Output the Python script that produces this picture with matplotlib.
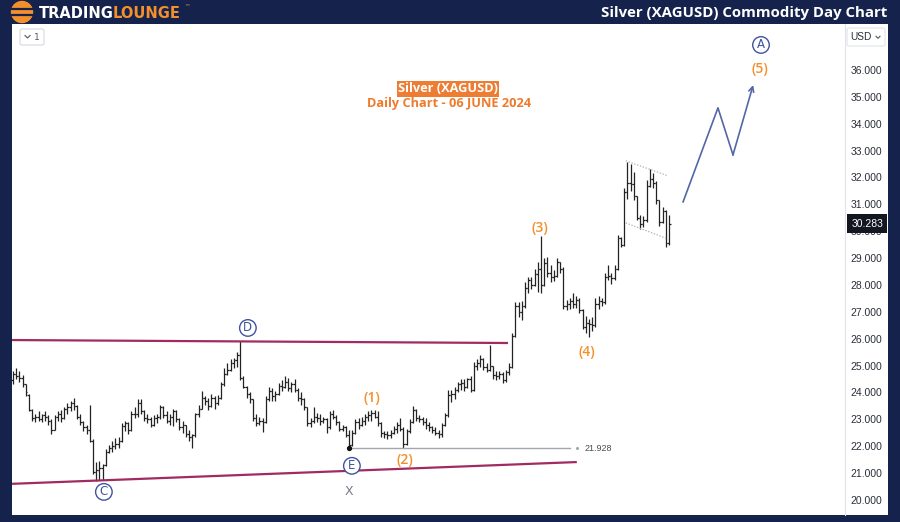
import matplotlib
matplotlib.use("Agg")   # no display

import numpy as np
import matplotlib.pyplot as plt
import matplotlib.transforms as mtransforms
from matplotlib.patches import Circle, FancyBboxPatch


# -------------------------------------------------
# DATA  (XAGUSD daily bars)
# -------------------------------------------------

opens = [
    24.45, 24.7, 24.6, 24.55, 24.3, 23.9, 23.35, 23.05, 23.1, 23.0,
    23.15, 23.1, 22.95, 22.6, 23.1, 23.2, 23.05, 23.4, 23.45, 23.6,
    23.5, 23.1, 22.9, 22.7, 22.6, 22.2, 21.05, 21.1, 21.2, 21.3,
    21.8, 21.95, 22.0, 22.1, 22.2, 22.75, 22.85, 22.6, 23.2, 23.2,
    23.6, 23.3, 23.05, 23.0, 22.8, 23.05, 23.1, 23.45, 23.15, 22.95,
    23.1, 23.3, 23.0, 22.7, 22.8, 22.45, 22.35, 22.4, 23.2, 23.4,
    23.8, 23.7, 23.5, 23.8, 23.6, 23.8, 24.3, 24.7, 24.85, 25.1,
    25.2, 25.4, 24.55, 24.2, 23.95, 23.75, 23.05, 22.85, 22.95, 22.9,
    23.75, 24.05, 23.85, 23.95, 24.25, 24.2, 24.4, 24.15, 24.3, 24.1,
    23.8, 23.75, 23.45, 22.85, 22.95, 23.1, 23.05, 22.95, 23.0, 22.7,
    23.2, 23.1, 22.9, 22.65, 22.7, 22.4, 22.05, 22.5, 22.9, 22.8,
    22.95, 23.1, 23.15, 23.25, 23.1, 22.85, 22.5, 22.45, 22.4, 22.5,
    22.65, 22.8, 22.65, 22.1, 22.55, 22.9, 23.35, 23.05, 23.0, 22.9,
    22.8, 22.7, 22.6, 22.5, 22.45, 22.8, 23.15, 23.9, 23.95, 24.1,
    24.3, 24.35, 24.2, 24.5, 24.1, 25.0, 25.1, 25.25, 24.95, 24.85,
    25.0, 24.65, 24.6, 24.7, 24.45, 24.75, 24.95, 26.1, 27.2, 27.0,
    27.2, 27.9, 28.2, 28.0, 28.4, 28.6, 28.0, 28.8, 28.45, 28.3,
    28.35, 28.85, 28.6, 27.2, 27.3, 27.4, 27.3, 27.45, 27.05, 26.45,
    26.6, 26.55, 26.5, 27.3, 27.4, 27.35, 28.3, 28.35, 28.25, 28.6,
    29.75, 29.5, 31.45, 31.8, 31.75, 31.3, 30.5, 30.25, 30.4, 31.7,
    31.95, 31.8, 31.15, 30.35, 30.75, 29.55,
]

highs = [
    24.8, 24.9, 24.8, 24.65, 24.3, 23.95, 23.4, 23.2, 23.3, 23.2,
    23.3, 23.15, 23.0, 23.15, 23.3, 23.35, 23.45, 23.6, 23.7, 23.8,
    23.55, 23.2, 22.95, 22.8, 23.55, 22.25, 21.4, 21.45, 21.35, 21.9,
    22.05, 22.2, 22.3, 22.35, 22.85, 22.95, 22.9, 23.3, 23.45, 23.75,
    23.75, 23.35, 23.2, 23.1, 23.15, 23.2, 23.55, 23.5, 23.3, 23.2,
    23.4, 23.35, 23.05, 22.95, 22.8, 22.6, 22.45, 23.25, 23.55, 24.05,
    23.85, 23.8, 23.95, 23.85, 23.9, 24.4, 24.9, 25.1, 25.25, 25.3,
    25.5, 25.93, 24.6, 24.25, 24.0, 23.75, 23.2, 23.1, 23.05, 23.85,
    24.2, 24.15, 24.05, 24.35, 24.45, 24.6, 24.55, 24.4, 24.5, 24.15,
    24.0, 23.8, 23.45, 23.05, 23.45, 23.25, 23.2, 23.1, 23.05, 23.3,
    23.35, 23.15, 22.95, 22.8, 22.75, 22.6, 22.6, 23.0, 23.05, 23.1,
    23.2, 23.3, 23.35, 23.35, 23.3, 22.9, 22.55, 22.55, 22.6, 22.75,
    22.9, 23.05, 22.7, 22.65, 23.0, 23.5, 23.4, 23.15, 23.1, 23.05,
    22.9, 22.75, 22.7, 22.6, 22.85, 23.25, 24.1, 24.1, 24.2, 24.4,
    24.5, 24.5, 24.55, 24.6, 25.15, 25.25, 25.4, 25.3, 25.1, 25.77,
    25.0, 24.8, 24.8, 24.75, 24.85, 25.1, 26.2, 27.35, 27.35, 27.4,
    28.1, 28.3, 28.3, 28.6, 28.85, 29.82, 29.0, 29.05, 28.75, 28.55,
    29.0, 28.85, 28.65, 27.45, 27.5, 27.7, 27.6, 27.5, 27.1, 26.85,
    26.75, 26.8, 27.5, 27.6, 27.5, 28.45, 28.75, 28.45, 28.75, 29.85,
    29.8, 31.6, 32.58, 32.5, 32.2, 31.3, 30.6, 30.55, 31.9, 32.32,
    32.15, 31.85, 31.15, 30.9, 30.8, 30.6,
]

lows = [
    24.3, 24.5, 24.4, 24.2, 23.85, 23.3, 22.95, 22.9, 22.95, 22.9,
    22.95, 22.8, 22.45, 22.6, 22.95, 22.9, 23.0, 23.2, 23.3, 23.35,
    23.0, 22.8, 22.55, 22.45, 22.15, 20.95, 20.7, 20.75, 20.75, 21.25,
    21.75, 21.8, 21.9, 21.95, 22.15, 22.55, 22.45, 22.55, 23.05, 23.1,
    23.2, 22.95, 22.85, 22.7, 22.75, 22.85, 23.0, 23.05, 22.85, 22.8,
    22.75, 22.9, 22.6, 22.5, 22.35, 22.2, 21.93, 22.35, 23.1, 23.4,
    23.55, 23.35, 23.45, 23.4, 23.55, 23.75, 24.25, 24.65, 24.8, 24.9,
    24.95, 24.45, 24.15, 23.8, 23.6, 22.95, 22.75, 22.8, 22.52, 22.85,
    23.7, 23.7, 23.7, 23.9, 24.05, 24.15, 24.05, 24.0, 24.0, 23.7,
    23.55, 23.35, 22.75, 22.7, 22.85, 22.9, 22.8, 22.85, 22.5, 22.65,
    23.0, 22.8, 22.55, 22.55, 22.35, 21.93, 22.0, 22.45, 22.65, 22.75,
    22.8, 22.95, 22.95, 23.05, 22.75, 22.35, 22.3, 22.25, 22.3, 22.45,
    22.5, 22.55, 21.95, 22.05, 22.5, 22.85, 22.95, 22.9, 22.8, 22.65,
    22.55, 22.5, 22.4, 22.3, 22.35, 22.75, 23.1, 23.65, 23.75, 24.0,
    24.1, 24.05, 24.15, 24.0, 24.05, 24.85, 24.95, 24.85, 24.75, 24.8,
    24.5, 24.45, 24.5, 24.35, 24.4, 24.65, 24.9, 26.05, 26.8, 26.7,
    27.15, 27.7, 27.85, 27.95, 27.75, 27.7, 27.95, 28.3, 28.1, 28.15,
    28.3, 28.45, 27.1, 27.05, 27.1, 27.15, 27.15, 26.95, 26.35, 26.2,
    26.05, 26.3, 26.45, 27.1, 27.2, 27.3, 28.2, 28.05, 28.2, 28.55,
    29.4, 29.45, 31.2, 31.5, 31.15, 30.4, 30.1, 30.15, 30.35, 31.65,
    31.6, 31.0, 30.2, 30.3, 29.42, 29.5,
]

closes = [
    24.7, 24.6, 24.55, 24.3, 24.0, 23.35, 23.05, 23.1, 23.0, 23.15,
    23.1, 22.95, 22.6, 23.1, 23.2, 23.05, 23.4, 23.45, 23.6, 23.5,
    23.1, 22.9, 22.7, 22.6, 22.2, 21.05, 21.1, 21.2, 21.3, 21.8,
    21.95, 22.0, 22.1, 22.2, 22.75, 22.85, 22.6, 23.2, 23.2, 23.6,
    23.3, 23.05, 23.0, 22.8, 23.05, 23.1, 23.45, 23.15, 22.95, 23.1,
    23.3, 23.0, 22.7, 22.8, 22.45, 22.35, 22.4, 23.2, 23.4, 23.8,
    23.7, 23.5, 23.8, 23.6, 23.8, 24.3, 24.7, 24.85, 25.1, 25.2,
    25.4, 24.55, 24.2, 23.95, 23.75, 23.05, 22.85, 22.95, 22.9, 23.75,
    24.05, 23.85, 23.95, 24.25, 24.2, 24.4, 24.15, 24.3, 24.1, 23.8,
    23.75, 23.45, 22.85, 22.95, 23.1, 23.05, 22.95, 23.0, 22.7, 23.2,
    23.1, 22.9, 22.65, 22.7, 22.4, 22.05, 22.5, 22.9, 22.8, 22.95,
    23.1, 23.15, 23.25, 23.1, 22.85, 22.5, 22.45, 22.4, 22.5, 22.65,
    22.8, 22.65, 22.1, 22.55, 22.9, 23.35, 23.05, 23.0, 22.9, 22.8,
    22.7, 22.6, 22.5, 22.45, 22.8, 23.15, 23.9, 23.95, 24.1, 24.3,
    24.35, 24.2, 24.5, 24.1, 25.0, 25.1, 25.25, 24.95, 24.85, 25.0,
    24.65, 24.6, 24.7, 24.45, 24.75, 24.95, 26.1, 27.2, 27.0, 27.2,
    27.9, 28.2, 28.0, 28.4, 28.6, 28.0, 28.8, 28.45, 28.3, 28.35,
    28.85, 28.6, 27.2, 27.3, 27.4, 27.3, 27.45, 27.05, 26.45, 26.6,
    26.55, 26.5, 27.3, 27.4, 27.35, 28.3, 28.35, 28.25, 28.6, 29.75,
    29.5, 31.45, 31.8, 31.75, 31.3, 30.5, 30.25, 30.4, 31.7, 31.95,
    31.8, 31.15, 30.35, 30.75, 29.55, 30.283,
]

last_price = 30.283
price_ticks = list(range(20, 37))

# horizontal level from wave E low
low_level = 21.928
low_level_x = [105, 174]

# triangle boundaries (maroon)
upper_line_x = [-0.3, 154.7]
upper_line_y = [25.95, 25.84]
lower_line_x = [-0.3, 176.2]
lower_line_y = [20.60, 21.41]

# flag channel (dotted)
flag_top_x = [191.5, 204.7]
flag_top_y = [32.62, 32.06]
flag_bot_x = [191.5, 204.7]
flag_bot_y = [30.31, 29.71]

# projected path to (5)
proj_x = [209.4, 220.3, 225.0, 231.3]
proj_y = [31.09, 34.59, 32.84, 35.44]

# wave labels
wave_labels = ["(1)", "(2)", "(3)", "(4)", "(5)"]
wave_x = [112.2, 122.5, 164.7, 179.4, 233.4]
wave_y = [23.80, 21.49, 30.12, 25.51, 36.04]

circle_labels = ["C", "D", "E", "A"]
circle_x = [28.4, 73.4, 105.9, 233.75]
circle_y = [20.30, 26.40, 21.27, 36.93]

x_label_pos = (105.0, 20.33)

assert len(opens) == len(highs) == len(lows) == len(closes)

# -------------------------------------------------
# COLOURS
# -------------------------------------------------
NAVY = "#15224c"
ORANGE = "#f4902c"
BAR = "#222222"
MAROON = "#a02b62"
CIRC = "#3f539e"
PROJ = "#5367a6"
AXIS_TXT = "#2a2e39"

# -------------------------------------------------
# FIGURE
# -------------------------------------------------
fig = plt.figure(figsize=(9, 5.22), dpi=100)
fig.patch.set_facecolor(NAVY)

# white panel behind plot + price scale
panel = fig.add_axes([12 / 900, 7 / 522, 876 / 900, 491 / 522])
panel.set_facecolor("white")
panel.set_xticks([])
panel.set_yticks([])
for s in panel.spines.values():
    s.set_visible(False)

ax = fig.add_axes([12 / 900, 7 / 522, 833 / 900, 491 / 522])
ax.set_facecolor("white")
ax.set_xlim(-0.31, 260)
ax.set_ylim(19.44, 37.71)

for name, s in ax.spines.items():
    s.set_visible(name == "right")
ax.spines["right"].set_color("#e0e3eb")
ax.spines["right"].set_linewidth(0.8)

ax.set_xticks([])
ax.yaxis.tick_right()
ax.set_yticks(price_ticks)
ax.set_yticklabels([f"{p:.3f}" for p in price_ticks],
                   fontfamily="Liberation Sans")
ax.tick_params(axis="y", length=0, pad=4, labelsize=7.5,
               labelcolor=AXIS_TXT)

# OHLC bars
idx = np.arange(len(closes))
ax.vlines(idx, lows, highs, color=BAR, lw=0.9)
ax.hlines(opens, idx - 0.5, idx, color=BAR, lw=0.9)
ax.hlines(closes, idx, idx + 0.5, color=BAR, lw=0.9)

# triangle lines
ax.plot(upper_line_x, upper_line_y, color=MAROON, lw=1.6, solid_capstyle="butt")
ax.plot(lower_line_x, lower_line_y, color=MAROON, lw=1.6, solid_capstyle="butt")

# E low level
ax.plot(low_level_x, [low_level, low_level], color="#a3a6ad", lw=1.0)
ax.plot(low_level_x[0], low_level, "o", ms=2.8, color="#111111")
ax.plot(176.3, low_level, "o", ms=1.2, color="#a3a6ad")
ax.text(182.8, low_level, f"{low_level:.3f}", ha="center", va="center",
        fontsize=6.5, color="#4a4d55", fontfamily="Liberation Sans")

# flag channel
ax.plot(flag_top_x, flag_top_y, color="#a8a8a8", lw=0.8, ls=(0, (1.2, 1.5)))
ax.plot(flag_bot_x, flag_bot_y, color="#a8a8a8", lw=0.8, ls=(0, (1.2, 1.5)))

# projection towards (5)
ax.plot(proj_x[:-1], proj_y[:-1], color=PROJ, lw=1.2)
ax.annotate("", xy=(proj_x[-1], proj_y[-1]), xytext=(proj_x[-2], proj_y[-2]),
            arrowprops=dict(arrowstyle="->", color=PROJ, lw=1.2,
                            shrinkA=0, shrinkB=0, mutation_scale=9))

# wave counts
for lab, x, y in zip(wave_labels, wave_x, wave_y):
    ax.text(x, y, lab, ha="center", va="center", fontsize=10,
            color=ORANGE, fontweight="semibold", fontfamily="Open Sans")

for lab, x, y in zip(circle_labels, circle_x, circle_y):
    ax.text(x, y, lab, ha="center", va="center", fontsize=8.5, color=CIRC,
            fontfamily="DejaVu Sans",
            bbox=dict(boxstyle="circle,pad=0.15", fc="white", ec=CIRC, lw=1.0))

ax.text(x_label_pos[0], x_label_pos[1], "X", ha="center", va="center",
        fontsize=9, color="#787b86", fontfamily="DejaVu Sans")

# last price tag on the scale
ax.text(1.0075, last_price, f"{last_price:.3f}",
        transform=mtransforms.blended_transform_factory(ax.transAxes, ax.transData),
        ha="left", va="center", fontsize=7.5, color="white",
        fontfamily="Liberation Sans", zorder=10,
        bbox=dict(boxstyle="square,pad=0.42", fc="#131722", ec="none"))

# -------------------------------------------------
# HEADER / UI OVERLAY (pixel coordinates)
# -------------------------------------------------
ui = fig.add_axes([0, 0, 1, 1])
ui.set_xlim(0, 900)
ui.set_ylim(522, 0)
ui.axis("off")
ui.patch.set_alpha(0)

# logo
ui.add_patch(Circle((22, 12), 10.5, color=ORANGE))
ui.plot([12, 32], [9.3, 9.3], color=NAVY, lw=1.6)
ui.plot([12, 32], [14.8, 14.8], color=NAVY, lw=1.6)
ui.text(39, 13, "TRADING", ha="left", va="center", color="white",
        fontsize=10.5, fontweight="bold", fontfamily="DejaVu Sans")
ui.text(113, 13, "LOUNGE", ha="left", va="center", color=ORANGE,
        fontsize=10.5, fontweight="bold", fontfamily="DejaVu Sans")
ui.text(184, 8, "™", ha="left", va="center", color=ORANGE, fontsize=4)

ui.text(887, 12.5, "Silver (XAGUSD) Commodity Day Chart", ha="right",
        va="center", color="white", fontsize=10.8, fontweight="bold",
        fontfamily="Open Sans")

# interval box top-left
ui.add_patch(FancyBboxPatch((20, 29), 24, 16,
                            boxstyle="round,pad=0,rounding_size=2",
                            fc="white", ec="#d6d8de", lw=0.8))
ui.plot([25, 27.5, 30], [35.5, 38, 35.5], color="#555", lw=0.8)
ui.text(37, 37, "1", ha="center", va="center", fontsize=6.5, color="#555")

# currency box top-right
ui.add_patch(FancyBboxPatch((847, 28), 38, 18,
                            boxstyle="round,pad=0,rounding_size=2",
                            fc="white", ec="#e0e3eb", lw=0.8))
ui.text(850, 37, "USD", ha="left", va="center", fontsize=7.3,
        color=AXIS_TXT, fontfamily="Liberation Sans")
ui.plot([876, 878, 880], [36.3, 38.3, 36.3], color="#555", lw=0.8)

# chart caption
ui.text(448, 89, "Silver (XAGUSD)", ha="center", va="center", color="white",
        fontsize=9.2, fontweight="bold", fontfamily="Open Sans",
        bbox=dict(boxstyle="square,pad=0.12", fc="#ec7d33", ec="none"))
ui.text(449, 104, "Daily Chart - 06 JUNE 2024", ha="center", va="center",
        color="#ef7a2b", fontsize=9.2, fontweight="bold",
        fontfamily="Open Sans")

fig.savefig("out.png", dpi=100, facecolor=fig.get_facecolor())
plt.close(fig)
